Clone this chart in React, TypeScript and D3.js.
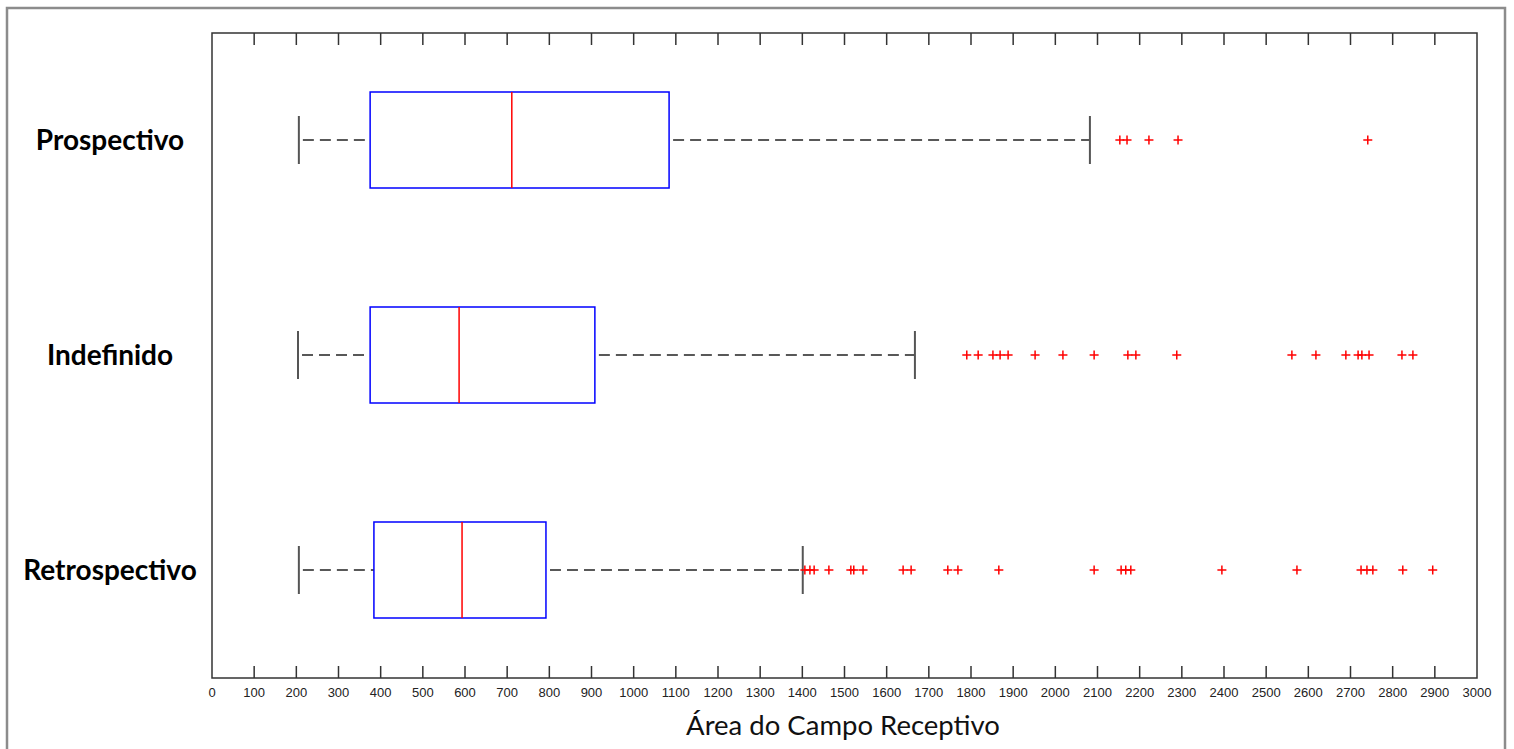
import React, { useEffect, useRef } from 'react';
import * as d3 from 'd3';

const categories = ['Prospectivo', 'Indefinido', 'Retrospectivo'];
// [lower whisker, q1, median, q3, upper whisker]
const boxStats = [
  [206, 375, 711, 1084, 2082],
  [204, 375, 586, 908, 1667],
  [206, 384, 593, 792, 1401],
];
const outliers = [
  [2153, 2170, 2222, 2291, 2741],
  [1790, 1817, 1852, 1869, 1888, 1952, 2018, 2092, 2172, 2191, 2288, 2561, 2618, 2689, 2718, 2727, 2744, 2822, 2848],
  [1406, 1418, 1428, 1463, 1515, 1522, 1544, 1639, 1658, 1745, 1769, 1866, 2092, 2156, 2167, 2179, 2395, 2573, 2725, 2739, 2753, 2824, 2895],
];
const xTicks = d3.range(0, 3001, 100);
const xTitle = 'Área do Campo Receptivo';

export default function App() {
  const ref = useRef<SVGSVGElement>(null);

  useEffect(() => {
    document.body.style.margin = '0';
    const svg = d3.select(ref.current);
    svg.selectAll('*').remove();

    const left = 212, right = 1477, top = 33, bottom = 678;
    const x = d3.scaleLinear().domain([0, 3000]).range([left, right]);
    const y = d3.scalePoint<string>().domain(categories).range([140, 570]);
    const boxH = 48, capH = 24;

    // outer frame
    svg.append('rect').attr('x', 7).attr('y', 8).attr('width', 1498).attr('height', 800)
      .attr('fill', 'none').attr('stroke', '#8c8c8c').attr('stroke-width', 2.5);

    // plot frame
    svg.append('rect').attr('x', left).attr('y', top).attr('width', right - left).attr('height', bottom - top)
      .attr('fill', 'none').attr('stroke', '#333').attr('stroke-width', 1.5);

    const inner = xTicks.filter(t => t > 0 && t < 3000);
    const g = svg.append('g');
    g.selectAll('line.tb').data(inner).enter().append('line')
      .attr('x1', d => x(d)).attr('x2', d => x(d)).attr('y1', bottom).attr('y2', bottom - 12)
      .attr('stroke', '#333').attr('stroke-width', 1.5);
    g.selectAll('line.tt').data(inner).enter().append('line')
      .attr('x1', d => x(d)).attr('x2', d => x(d)).attr('y1', top).attr('y2', top + 12)
      .attr('stroke', '#333').attr('stroke-width', 1.5);
    g.selectAll('text.tl').data(xTicks).enter().append('text')
      .attr('x', d => x(d)).attr('y', 697)
      .attr('text-anchor', 'middle')
      .attr('font-family', 'Liberation Sans, Arial, sans-serif').attr('font-size', 13)
      .attr('fill', '#222')
      .text(d => String(d));

    svg.append('text').attr('x', 843).attr('y', 735).attr('text-anchor', 'middle')
      .attr('font-family', 'Lato, sans-serif').attr('font-size', 27.5).attr('fill', '#111')
      .text(xTitle);

    categories.forEach((cat, i) => {
      const cy = y(cat) as number;
      const [lo, q1, med, q3, hi] = boxStats[i];
      const bg = svg.append('g');

      svg.append('text').attr('x', 110).attr('y', cy + 10).attr('text-anchor', 'middle')
        .attr('font-family', 'Lato, sans-serif').attr('font-weight', 'bold').attr('font-size', 28)
        .attr('fill', '#000').text(cat);

      // whiskers
      bg.append('line').attr('x1', x(lo) + 4).attr('x2', x(q1)).attr('y1', cy).attr('y2', cy)
        .attr('stroke', '#222').attr('stroke-width', 1.5).attr('stroke-dasharray', '11 6');
      bg.append('line').attr('x1', x(q3) + 4).attr('x2', x(hi)).attr('y1', cy).attr('y2', cy)
        .attr('stroke', '#222').attr('stroke-width', 1.5).attr('stroke-dasharray', '11 6');
      [lo, hi].forEach(v => {
        bg.append('line').attr('x1', x(v)).attr('x2', x(v)).attr('y1', cy - capH).attr('y2', cy + capH)
          .attr('stroke', '#555').attr('stroke-width', 2);
      });

      // box
      bg.append('rect').attr('x', x(q1)).attr('y', cy - boxH).attr('width', x(q3) - x(q1)).attr('height', boxH * 2)
        .attr('fill', 'none').attr('stroke', '#0000ff').attr('stroke-width', 1.5);
      bg.append('line').attr('x1', x(med)).attr('x2', x(med)).attr('y1', cy - boxH).attr('y2', cy + boxH)
        .attr('stroke', '#ff0000').attr('stroke-width', 1.5);

      // outliers
      const s = 4.5;
      bg.selectAll('path.o').data(outliers[i]).enter().append('path')
        .attr('d', d => `M${x(d) - s},${cy}H${x(d) + s}M${x(d)},${cy - s}V${cy + s}`)
        .attr('stroke', '#ff0000').attr('stroke-width', 1.5).attr('fill', 'none');
    });
  }, []);

  return <svg ref={ref} width={1514} height={749} style={{ display: 'block', background: '#fff' }} />;
}
